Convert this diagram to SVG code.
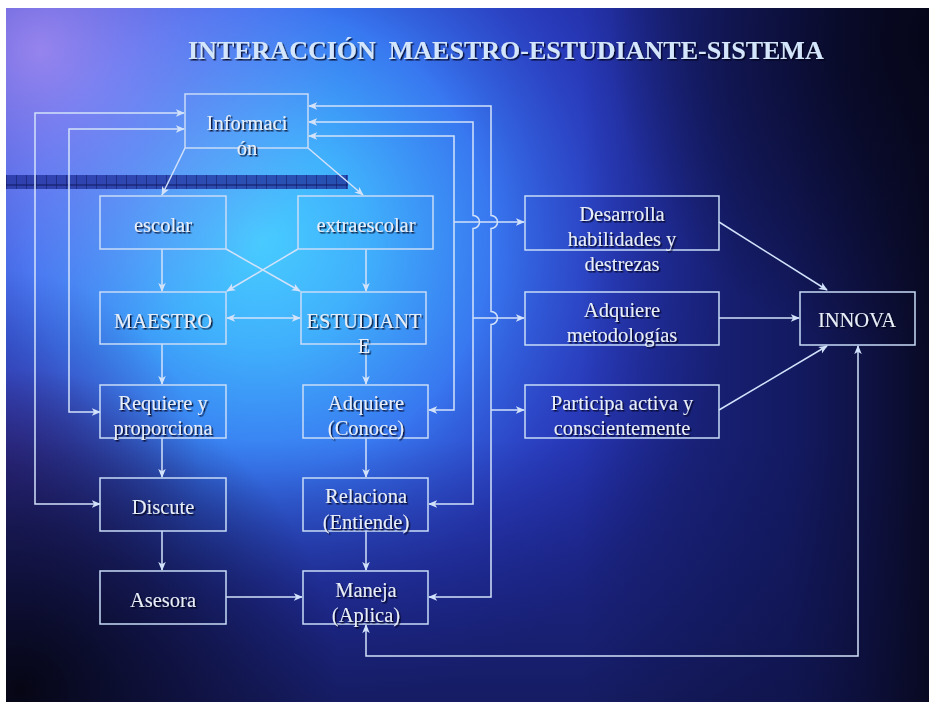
<svg xmlns="http://www.w3.org/2000/svg" width="929" height="702" viewBox="0 0 929 702">
<defs>
<radialGradient id="gCyan" cx="260" cy="240" r="480" gradientUnits="userSpaceOnUse">
<stop offset="0" stop-color="#48ccff"/>
<stop offset="0.22" stop-color="#40b0fc"/>
<stop offset="0.48" stop-color="#3878f0"/>
<stop offset="0.75" stop-color="#3048d8" stop-opacity="0.55"/>
<stop offset="1" stop-color="#2a3ad0" stop-opacity="0"/>
</radialGradient>
<radialGradient id="gPurple" cx="40" cy="50" r="300" gradientUnits="userSpaceOnUse">
<stop offset="0" stop-color="#a88cf2" stop-opacity="0.85"/>
<stop offset="0.5" stop-color="#8c7cf0" stop-opacity="0.45"/>
<stop offset="1" stop-color="#8a70f0" stop-opacity="0"/>
</radialGradient>
<radialGradient id="gLeft" cx="0" cy="470" r="200" gradientUnits="userSpaceOnUse">
<stop offset="0" stop-color="#3a2a90" stop-opacity="0.8"/>
<stop offset="1" stop-color="#3a2a90" stop-opacity="0"/>
</radialGradient>
<linearGradient id="gRight" x1="580" y1="0" x2="929" y2="0" gradientUnits="userSpaceOnUse">
<stop offset="0" stop-color="#0a0c30" stop-opacity="0"/>
<stop offset="0.6" stop-color="#0c1040" stop-opacity="0.6"/>
<stop offset="1" stop-color="#08081e" stop-opacity="0.95"/>
</linearGradient>
<linearGradient id="gBottom" x1="0" y1="440" x2="0" y2="702" gradientUnits="userSpaceOnUse">
<stop offset="0" stop-color="#141a6a" stop-opacity="0"/>
<stop offset="1" stop-color="#141a5a" stop-opacity="0.85"/>
</linearGradient>
<radialGradient id="gBL" cx="20" cy="690" r="320" gradientUnits="userSpaceOnUse">
<stop offset="0" stop-color="#050510" stop-opacity="0.95"/>
<stop offset="0.5" stop-color="#0a0a24" stop-opacity="0.6"/>
<stop offset="1" stop-color="#0a0a24" stop-opacity="0"/>
</radialGradient>
<radialGradient id="gTR" cx="929" cy="40" r="320" gradientUnits="userSpaceOnUse">
<stop offset="0" stop-color="#06061a" stop-opacity="0.95"/>
<stop offset="1" stop-color="#06061a" stop-opacity="0"/>
</radialGradient>
<pattern id="grid" x="6" y="175" width="10" height="14" patternUnits="userSpaceOnUse">
<rect width="10" height="14" fill="#1e2e9a" fill-opacity="0.75"/>
<path d="M0,0 V14 M0,10 H10" stroke="#101860" stroke-width="1" fill="none"/>
</pattern>
<filter id="sh" x="-10%" y="-30%" width="120%" height="160%">
<feDropShadow dx="1.5" dy="1.5" stdDeviation="0.6" flood-color="#000018" flood-opacity="0.85"/>
</filter>
<marker id="ar" viewBox="0 0 10 10" refX="9" refY="5" markerWidth="9" markerHeight="9" markerUnits="userSpaceOnUse" orient="auto-start-reverse">
<path d="M0,0.8 L10,5 L0,9.2 L2.5,5 z" fill="#d2e2fa"/>
</marker>
<style>
.box{fill:none;stroke:#c8dcf8;stroke-width:1.5}
.ln{fill:none;stroke:#d2e2fa;stroke-width:1.5}
.t{font-family:"Liberation Serif","Times New Roman",serif;font-size:20.5px;fill:#e8eef8;text-anchor:middle;filter:url(#sh)}
.title{font-family:"Liberation Serif","Times New Roman",serif;font-size:26px;font-weight:bold;fill:#d4e6fc;filter:url(#sh)}
</style>
</defs>
<rect x="0" y="0" width="929" height="702" fill="#ffffff"/>
<g id="background">
<rect x="6" y="8" width="923" height="694" fill="#1f2a96"/>
<rect x="6" y="8" width="923" height="694" fill="url(#gCyan)"/>
<rect x="6" y="8" width="923" height="694" fill="url(#gPurple)"/>
<rect x="6" y="8" width="923" height="694" fill="url(#gLeft)"/>
<rect x="6" y="8" width="923" height="694" fill="url(#gBottom)"/>
<rect x="6" y="8" width="923" height="694" fill="url(#gRight)"/>
<rect x="6" y="8" width="923" height="694" fill="url(#gTR)"/>
<rect x="6" y="8" width="923" height="694" fill="url(#gBL)"/>
<rect x="6" y="175" width="342" height="14" fill="url(#grid)"/>
</g>
<g id="title">
<text class="title" x="188" y="59">INTERACCIÓN&#160; MAESTRO-ESTUDIANTE-SISTEMA</text>
</g>
<g id="connectors">
<line class="ln" x1="185" y1="148" x2="162" y2="195" marker-end="url(#ar)"/>
<line class="ln" x1="308" y1="148" x2="363" y2="195" marker-end="url(#ar)"/>
<line class="ln" x1="162" y1="249" x2="162" y2="291" marker-end="url(#ar)"/>
<line class="ln" x1="226" y1="249" x2="300" y2="291" marker-end="url(#ar)"/>
<line class="ln" x1="298" y1="249" x2="227" y2="291" marker-end="url(#ar)"/>
<line class="ln" x1="366" y1="249" x2="366" y2="291" marker-end="url(#ar)"/>
<line class="ln" x1="227" y1="318" x2="300" y2="318" marker-start="url(#ar)" marker-end="url(#ar)"/>
<line class="ln" x1="162" y1="344" x2="162" y2="384" marker-end="url(#ar)"/>
<line class="ln" x1="366" y1="344" x2="366" y2="384" marker-end="url(#ar)"/>
<line class="ln" x1="162" y1="438" x2="162" y2="477" marker-end="url(#ar)"/>
<line class="ln" x1="366" y1="438" x2="366" y2="477" marker-end="url(#ar)"/>
<line class="ln" x1="162" y1="531" x2="162" y2="570" marker-end="url(#ar)"/>
<line class="ln" x1="366" y1="531" x2="366" y2="570" marker-end="url(#ar)"/>
<line class="ln" x1="226" y1="597" x2="302" y2="597" marker-end="url(#ar)"/>
<path class="ln" d="M100,504 H35 V113 H184" marker-end="url(#ar)" marker-start="url(#ar)"/>
<path class="ln" d="M100,412 H69 V129 H184" marker-end="url(#ar)" marker-start="url(#ar)"/>
<path class="ln" d="M309,106 H491 V215.5 A6.5,6.5 0 0 1 491,228.5 V311.5 A6.5,6.5 0 0 1 491,324.5 V597 H429" marker-start="url(#ar)" marker-end="url(#ar)"/>
<path class="ln" d="M309,122 H473 V215.5 A6.5,6.5 0 0 1 473,228.5 V504 H429" marker-start="url(#ar)" marker-end="url(#ar)"/>
<path class="ln" d="M309,136 H454 V410 H429" marker-start="url(#ar)" marker-end="url(#ar)"/>
<line class="ln" x1="454" y1="222" x2="524" y2="222" marker-end="url(#ar)"/>
<line class="ln" x1="473" y1="318" x2="524" y2="318" marker-end="url(#ar)"/>
<line class="ln" x1="491" y1="410" x2="524" y2="410" marker-end="url(#ar)"/>
<line class="ln" x1="719" y1="222" x2="827" y2="290" marker-end="url(#ar)"/>
<line class="ln" x1="719" y1="318" x2="799" y2="318" marker-end="url(#ar)"/>
<line class="ln" x1="719" y1="410" x2="827" y2="346" marker-end="url(#ar)"/>
<path class="ln" d="M366,625 V656 H858 V346" marker-start="url(#ar)" marker-end="url(#ar)"/>
</g>
<g id="informacion"><rect class="box" x="185" y="94" width="123" height="54"/><text class="t" x="247" y="130">Informaci</text><text class="t" x="247" y="155">ón</text></g>
<g id="escolar"><rect class="box" x="100" y="196" width="126" height="53"/><text class="t" x="163" y="232">escolar</text></g>
<g id="extraescolar"><rect class="box" x="298" y="196" width="135" height="53"/><text class="t" x="366" y="232">extraescolar</text></g>
<g id="maestro"><rect class="box" x="100" y="292" width="126" height="52"/><text class="t" x="163" y="328">MAESTRO</text></g>
<g id="estudiante"><rect class="box" x="301" y="292" width="125" height="52"/><text class="t" x="364" y="328">ESTUDIANT</text><text class="t" x="364" y="353">E</text></g>
<g id="requiere"><rect class="box" x="100" y="385" width="126" height="53"/><text class="t" x="163" y="410">Requiere y</text><text class="t" x="163" y="435">proporciona</text></g>
<g id="adquiere"><rect class="box" x="303" y="385" width="125" height="53"/><text class="t" x="366" y="410">Adquiere</text><text class="t" x="366" y="435">(Conoce)</text></g>
<g id="discute"><rect class="box" x="100" y="478" width="126" height="53"/><text class="t" x="163" y="514">Discute</text></g>
<g id="relaciona"><rect class="box" x="303" y="478" width="125" height="53"/><text class="t" x="366" y="503">Relaciona</text><text class="t" x="366" y="529">(Entiende)</text></g>
<g id="asesora"><rect class="box" x="100" y="571" width="126" height="53"/><text class="t" x="163" y="607">Asesora</text></g>
<g id="maneja"><rect class="box" x="303" y="571" width="125" height="53"/><text class="t" x="366" y="597">Maneja</text><text class="t" x="366" y="622">(Aplica)</text></g>
<g id="desarrolla"><rect class="box" x="525" y="196" width="194" height="54"/><text class="t" x="622" y="221">Desarrolla</text><text class="t" x="622" y="246">habilidades y</text><text class="t" x="622" y="271">destrezas</text></g>
<g id="metodologias"><rect class="box" x="525" y="292" width="194" height="53"/><text class="t" x="622" y="317">Adquiere</text><text class="t" x="622" y="342">metodologías</text></g>
<g id="participa"><rect class="box" x="525" y="385" width="194" height="53"/><text class="t" x="622" y="410">Participa activa y</text><text class="t" x="622" y="435">conscientemente</text></g>
<g id="innova"><rect class="box" x="800" y="292" width="115" height="53"/><text class="t" x="857" y="327">INNOVA</text></g>
</svg>
